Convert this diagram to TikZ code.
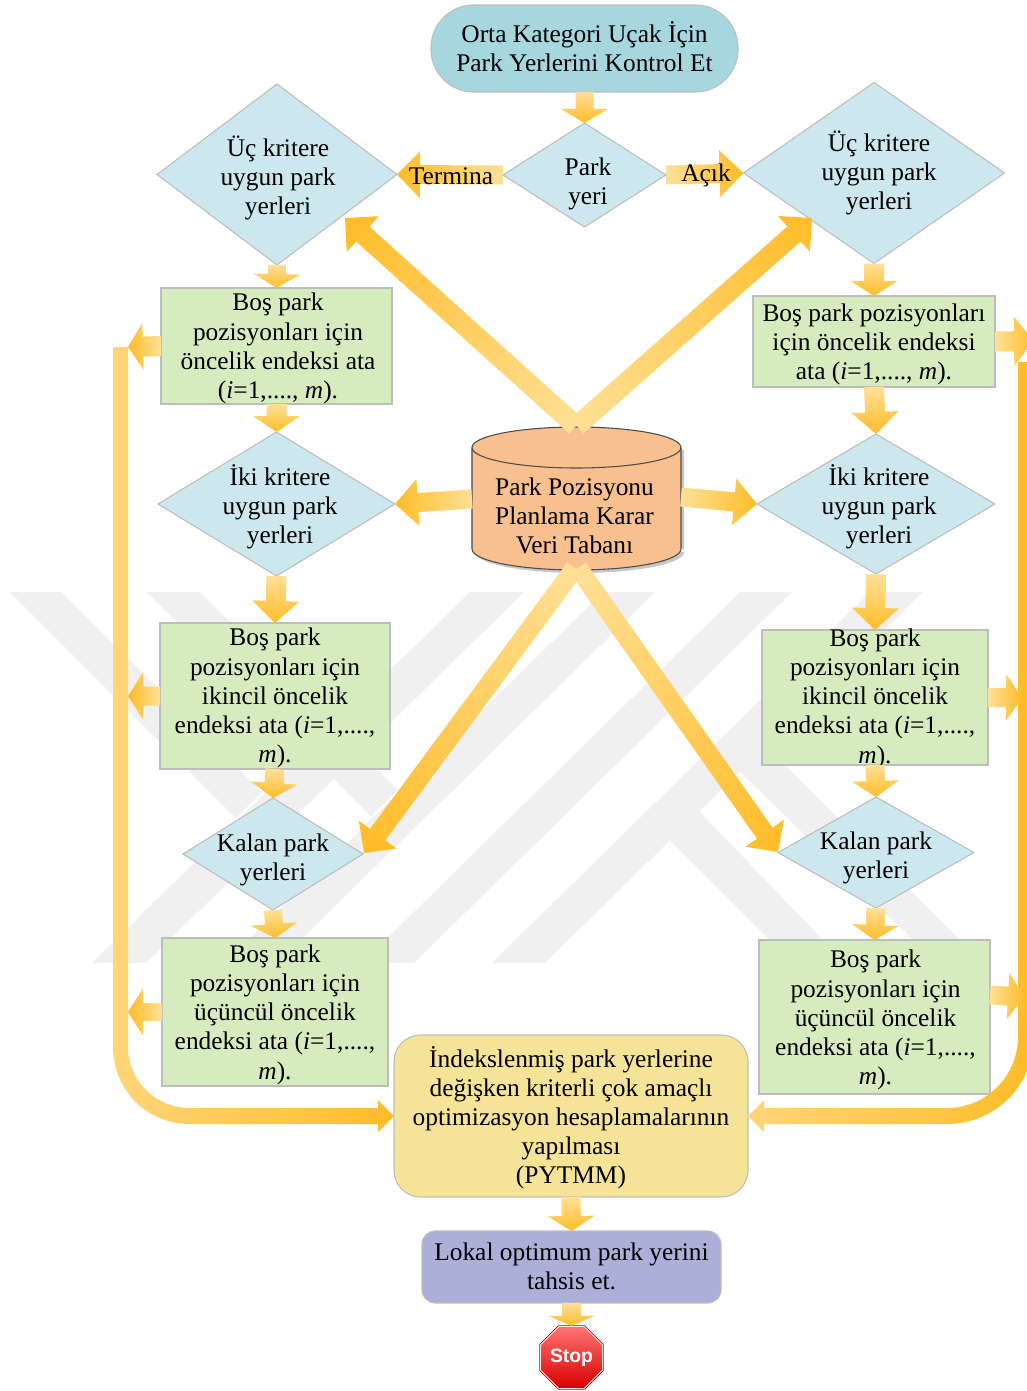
\documentclass[tikz,border=0pt]{standalone}
\usepackage{fontspec}
\usetikzlibrary{calc,shapes.geometric}
\setmainfont{Liberation Serif}
\newfontfamily\stopfam{Liberation Sans}
\definecolor{pale}{HTML}{FFE096}
\definecolor{bandpale}{HTML}{FFD579}
\definecolor{deep}{HTML}{FFBC28}
\definecolor{edgeg}{HTML}{BDBDBD}
\definecolor{wm}{HTML}{F0F0F0}
\newdimen\pxu \pxu=.75pt
\newcommand{\T}[3]{\makebox[0pt]{\smash{\raisebox{\dimexpr-.25em-3\pxu-#2\pxu\relax}{\kern#1\dimexpr2\pxu\relax\setlength{\tabcolsep}{0pt}\begin{tabular}[c]{c}#3\end{tabular}}}}}
\newcommand{\garrow}[5]{%
  \path let \p1=(#1),\p2=(#2) in \pgfextra{%
    \pgfmathsetmacro\gtmpa{atan2(\y2-\y1,\x2-\x1)}\global\let\gang\gtmpa
    \pgfmathsetmacro\gtmpb{veclen(\x2-\x1,\y2-\y1)}\global\let\glen\gtmpb
    \xdef\gxx{\x1}\xdef\gyy{\y1}};
  \begin{scope}[transform canvas={shift={(\gxx,\gyy)},rotate=\gang},x=1pt,y=1pt]
    \shade[left color=pale,right color=deep]
      (0,{-.375*#3}) -- ({\glen-.75*#5},{-.375*#3}) -- ({\glen-.75*#5},{-.375*#4}) -- (\glen,0)
      -- ({\glen-.75*#5},{.375*#4}) -- ({\glen-.75*#5},{.375*#3}) -- (0,{.375*#3}) -- cycle;
  \end{scope}}
\tikzset{
  txt/.style={font=\fontsize{19.05}{21.9}\selectfont,text=black,inner sep=0pt,outer sep=0pt},
  px/.style 2 args={minimum width={#1*.75pt},minimum height={#2*.75pt}},
  dia/.style={txt,shape=diamond,draw=edgeg,line width=.8pt,fill=diafill},
  gbox/.style={txt,rectangle,draw=edgeg,line width=.8pt,fill=boxfill},
  band/.style={fill=wm,draw=none},
  octa/.style={shape=regular polygon,regular polygon sides=8,inner sep=0pt,outer sep=0pt}
}
\definecolor{diafill}{HTML}{CDE7EF}
\definecolor{boxfill}{HTML}{D7ECBE}
\definecolor{startfill}{HTML}{A6D6DE}
\definecolor{optfill}{HTML}{F5E497}
\definecolor{lokfill}{HTML}{ACAFD7}
\definecolor{cylfill}{HTML}{F9C08F}
\begin{document}
\begin{tikzpicture}[x=.75pt,y=-.75pt]
\useasboundingbox (0,0) rectangle (1027,1391);
% background watermark
\fill[band] (470,592)--(524,592)--(146,963)--(92,963)--cycle;
\fill[band] (603,592)--(655,592)--(277,963)--(225,963)--cycle;
\fill[band] (740,592)--(792,592)--(414,963)--(362,963)--cycle;
\fill[band] (870,592)--(923,592)--(545,963)--(492,963)--cycle;
\fill[band] (10,592)--(62,592)--(262,792)--(236,818)--cycle;
\fill[band] (147,592)--(200,592)--(398,790)--(371,816)--cycle;
\fill[band] (698,810)--(845,963)--(793,963)--(668,839)--cycle;
\fill[band] (738,770)--(764,744)--(983,963)--(937,963)--cycle;
% nodes
\node[txt,rectangle,rounded corners=32pt,draw=edgeg,line width=.8pt,fill=startfill,px={307}{87}] (start) at (584.5,48.5) {\T{0}{0}{Orta Kategori Uçak İçin\\Park Yerlerini Kontrol Et}};
\node[dia,px={163}{104}] (park) at (584.5,175) {\T{3.5}{7}{Park\\yeri}};
\node[dia,px={240}{181}] (d3L) at (277,174.5) {\T{1}{2.5}{Üç kritere\\uygun park\\yerleri}};
\node[dia,px={261}{181}] (d3R) at (874,173) {\T{5}{-1}{Üç kritere\\uygun park\\yerleri}};
\node[gbox,px={231}{116}] (L1) at (276.5,346) {\T{1.5}{0.5}{Boş park\\pozisyonları için\\öncelik endeksi ata\\(\textit{i}=1,...., \textit{m}).}};
\node[gbox,px={242}{91}] (R1) at (874,341.5) {\T{0}{0.5}{Boş park pozisyonları\\için öncelik endeksi\\ata (\textit{i}=1,...., \textit{m}).}};
\node[dia,px={237}{144}] (d2L) at (276.5,504) {\T{3.5}{2}{İki kritere\\uygun park\\yerleri}};
\node[dia,px={238}{140}] (d2R) at (876,504) {\T{3}{2}{İki kritere\\uygun park\\yerleri}};
\node[gbox,px={230}{146}] (L2) at (275,696) {\T{0}{0}{Boş park\\pozisyonları için\\ikincil öncelik\\endeksi ata (\textit{i}=1,....,\\\textit{m}).}};
\node[gbox,px={226}{135}] (R2) at (875,697.5) {\T{0}{-1}{Boş park\\pozisyonları için\\ikincil öncelik\\endeksi ata (\textit{i}=1,....,\\\textit{m}).}};
\node[dia,px={180}{112}] (d1L) at (273,854) {\T{0}{3.5}{Kalan park\\yerleri}};
\node[dia,px={196}{111}] (d1R) at (876,852.5) {\T{0}{3}{Kalan park\\yerleri}};
\node[gbox,px={226}{148}] (L3) at (275,1012) {\T{0}{0.5}{Boş park\\pozisyonları için\\üçüncül öncelik\\endeksi ata (\textit{i}=1,....,\\\textit{m}).}};
\node[gbox,px={231}{154}] (R3) at (874.5,1017) {\T{1}{1}{Boş park\\pozisyonları için\\üçüncül öncelik\\endeksi ata (\textit{i}=1,....,\\\textit{m}).}};
\node[txt,rectangle,rounded corners=20pt,draw=edgeg,line width=.8pt,fill=optfill,px={354}{162}] (opt) at (571,1116) {\T{0}{1}{İndekslenmiş park yerlerine\\değişken kriterli çok amaçlı\\optimizasyon hesaplamalarının\\yapılması\\(PYTMM)}};
\node[txt,rectangle,rounded corners=10pt,draw=edgeg,line width=.8pt,fill=lokfill,px={299}{72}] (lokal) at (571.5,1267) {\T{0}{0}{Lokal optimum park yerini\\tahsis et.}};
% database cylinder
\fill[black,opacity=.22] (475,450) rectangle (684,552) (579.5,552) ellipse[x radius=104.5,y radius=21];
\fill[cylfill] (472,447.5) rectangle (681,549);
\fill[cylfill] (576.5,549) ellipse[x radius=104.5,y radius=21];
\fill[cylfill] (576.5,447.5) ellipse[x radius=104.5,y radius=20.5];
\draw[black!70,line width=.8pt] (472,447.5)--(472,549) arc[start angle=180,end angle=0,x radius=104.5,y radius=21]--(681,447.5);
\draw[black!70,line width=.8pt] (576.5,447.5) ellipse[x radius=104.5,y radius=20.5];
\node[txt,px={209}{143}] (db) at (576.5,498.5) {\T{-2}{18}{Park Pozisyonu\\Planlama Karar\\Veri Tabanı}};
% stop sign
\node[octa,minimum size=51.5pt,draw=red!75!black,line width=.6pt,fill=white] (stop) at (571.5,1357.5) {};
\node[octa,minimum size=44.5pt,top color=red!55!white,bottom color=red!85!black,text=white,font=\stopfam\bfseries\fontsize{14.5}{14.5}\selectfont] (stopin) at (stop.center) {Stop};
% connector ends
\coordinate (tipUL) at (345,218);
\coordinate (tipUR) at (812,218);
\coordinate (tipLL) at (364,853);
\coordinate (tipLR) at (778,852);
\coordinate (dbNa) at (576,426);
\coordinate (dbNb) at (577,426);
\coordinate (dbSa) at (575,568);
\coordinate (dbSb) at (578,568);
\coordinate (dbW) at (472,499);
\coordinate (dbE) at (681,497);
\coordinate (outL1) at (128,347);
\coordinate (outL2) at (128,696);
\coordinate (outL3) at (128,1012);
\coordinate (outR1) at (1034,341);
\coordinate (outR2) at (1022,698);
\coordinate (tailR3) at (990,995);
\coordinate (outR3) at (1024,997);
% return bands
\shade[left color=bandpale,right color=deep] (113,347)--(113,1047) .. controls (113,1090) and (147,1124) .. (190,1124)--(378,1124)--(378,1132)--(394,1116)--(378,1100)--(378,1108)--(190,1108) .. controls (156,1108) and (128,1081) .. (128,1047)--(128,347)--cycle;
\shade[left color=bandpale,right color=deep] (1018,362)--(1018,1037) .. controls (1018,1076) and (986,1108) .. (947,1108)--(764,1108)--(764,1100)--(748,1116)--(764,1132)--(764,1124)--(947,1124) .. controls (995,1124) and (1034,1085) .. (1034,1037)--(1034,362)--cycle;
% arrows
\garrow{start.south}{park.north}{18}{47}{14}
\garrow{park.west}{d3L.east}{19}{47}{23}
\garrow{park.east}{d3R.west}{19}{47}{24}
\garrow{d3L.south}{L1.north}{18}{47}{14}
\garrow{d3R.south}{R1.north}{20}{47}{15}
\garrow{L1.south}{d2L.north}{20}{47}{16}
\garrow{R1.south}{d2R.north}{20}{47}{22}
\garrow{d2L.south}{L2.north}{20}{47}{22}
\garrow{d2R.south}{R2.north}{20}{47}{22}
\garrow{L2.south}{d1L.north}{19}{47}{15}
\garrow{R2.south}{d1R.north}{19}{47}{16}
\garrow{d1L.south}{L3.north}{18}{47}{14}
\garrow{d1R.south}{R3.north}{19}{47}{15}
\garrow{opt.south}{lokal.north}{19}{47}{15}
\garrow{lokal.south}{stop.north}{19}{47}{10}
\garrow{L1.west}{outL1}{20}{47}{15}
\garrow{L2.west}{outL2}{19}{47}{15}
\garrow{L3.west}{outL3}{18}{47}{15}
\garrow{R1.east}{outR1}{20}{49}{20}
\garrow{R2.east}{outR2}{19}{47}{16}
\garrow{tailR3}{outR3}{19}{47}{16}
\garrow{dbW}{d2L.east}{19}{47}{23}
\garrow{dbE}{d2R.west}{19}{47}{23}
\garrow{dbNa}{tipUL}{20}{48}{24}
\garrow{dbNb}{tipUR}{20}{48}{24}
\garrow{dbSa}{tipLL}{19}{47}{23}
\garrow{dbSb}{tipLR}{19}{47}{23}
% arrow labels
\node[txt] (lTerm) at (451,176) {Termina};
\node[txt] (lAcik) at (706,175) {Açık};
\end{tikzpicture}
\end{document}
